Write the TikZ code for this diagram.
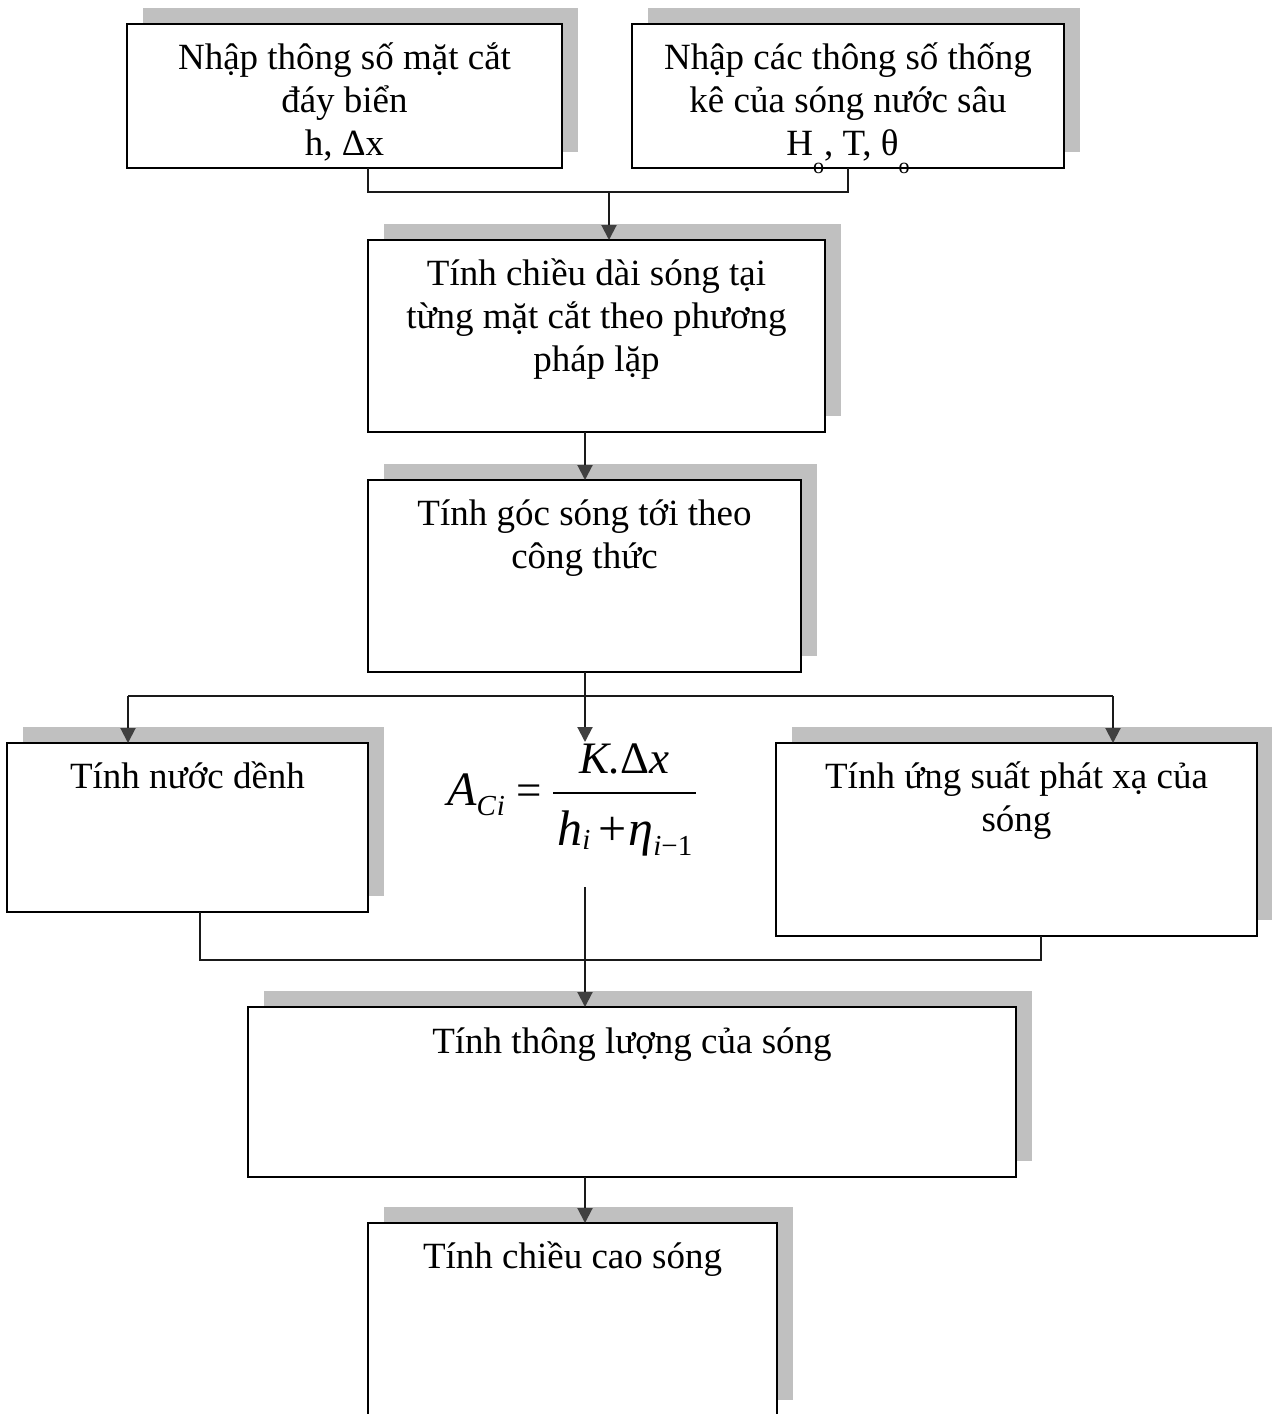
\documentclass[tikz,border=0pt]{standalone}
\usepackage{fontspec}
\setmainfont{Liberation Serif}
\usetikzlibrary{arrows.meta}
\definecolor{shadowgray}{HTML}{C0C0C0}
\definecolor{linecol}{HTML}{1A1A1A}
\definecolor{tipcol}{HTML}{404040}
\newcommand\stacklines[1]{\vtop{\baselineskip=43pt\lineskiplimit=-100pt\halign{\hfil##\hfil\cr#1\crcr}}}
\newcommand\lowsub[1]{\raisebox{-18pt}{\fontsize{22}{22}\selectfont #1}}
\newcommand\fsub[2]{\raisebox{-#2}{\fontsize{29}{29}\selectfont #1}}
\newcommand\numstrut{\vrule width 0pt height 35pt depth 10pt}
\newcommand\denstrut{\vrule width 0pt height 40pt depth 12pt}
\newcommand\myfrac[2]{\raisebox{32pt}{\vtop{\offinterlineskip\halign{\hfil\hskip4pt##\hskip4pt\hfil\cr
  \numstrut#1\cr\noalign{\kern9pt\hrule height 2pt\kern11pt}\denstrut#2\cr}}}}
\begin{document}
\begin{tikzpicture}[x=1pt,y=-1pt,
  box/.style={draw=black,line width=2.4pt,fill=white,inner sep=0pt,outer sep=0pt,anchor=north west,
    preaction={fill=shadowgray,draw=none,transform canvas={shift={(16pt,16pt)}}}},
  txt/.style={font=\fontsize{37}{43}\selectfont,inner sep=0pt,outer sep=0pt,anchor=base},
  conn/.style={draw=linecol,line width=2pt},
  arr/.style={conn,-{Triangle[length=15pt,width=15pt,color=tipcol]}}]
\useasboundingbox (0,0) rectangle (1272,1414);
\clip (0,0) rectangle (1272,1414);
% boxes
\node[box,minimum width=435pt,minimum height=144pt] (b1) at (127,24) {};
\node[box,minimum width=432pt,minimum height=144pt] (b2) at (632,24) {};
\node[box,minimum width=457pt,minimum height=192pt] (b3) at (368,240) {};
\node[box,minimum width=433pt,minimum height=192pt] (b4) at (368,480) {};
\node[box,minimum width=361pt,minimum height=169pt] (b5) at (7,743) {};
\node[box,minimum width=481pt,minimum height=193pt] (b6) at (776,743) {};
\node[box,minimum width=768pt,minimum height=170pt] (b7) at (248,1007) {};
\node[box,minimum width=409pt,minimum height=193pt] (b8) at (368,1223) {};
% texts
\node[txt] (t1) at ([yshift=-45pt]b1.north) {\stacklines{Nhập thông số mặt cắt\cr đáy biển\cr h, Δx}};
\node[txt] (t2) at ([yshift=-45pt]b2.north) {\stacklines{Nhập các thông số thống\cr kê của sóng nước sâu\cr H\lowsub{o}, T, θ\lowsub{o}}};
\node[txt] (t3) at ([yshift=-45pt]b3.north) {\stacklines{Tính chiều dài sóng tại\cr từng mặt cắt theo phương\cr pháp lặp}};
\node[txt] (t4) at ([yshift=-45pt]b4.north) {\stacklines{Tính góc sóng tới theo\cr công thức}};
\node[txt] (t5) at ([yshift=-45pt]b5.north) {\stacklines{Tính nước dềnh}};
\node[txt] (t6) at ([yshift=-45pt]b6.north) {\stacklines{Tính ứng suất phát xạ của\cr sóng}};
\node[txt] (t7) at ([yshift=-46pt]b7.north) {\stacklines{Tính thông lượng của sóng}};
\node[txt] (t8) at ([yshift=-45pt]b8.north) {\stacklines{Tính chiều cao sóng}};
% formula
\node[anchor=base west,inner sep=0pt,font=\fontsize{45}{50}\selectfont] (formula) at (447,805)
  {{\fontsize{48}{50}\selectfont\itshape A}\fsub{\itshape C\kern1pt i}{10pt}\hspace{12pt}=\hspace{11pt}%
   \myfrac{\itshape K.\upshape Δ\itshape x}%
   {\fontsize{50}{50}\selectfont\itshape h\fsub{\itshape i}{4pt}\hspace{8pt}\upshape+\hspace{2pt}\itshape η\fsub{\itshape i\upshape−1}{10pt}}};
% junction coordinates
\coordinate (j1) at (609,192);
\coordinate (sp) at (585,696);
\coordinate (sl) at (128,696);
\coordinate (sr) at (1113,696);
\coordinate (ftop) at (585,742);
\coordinate (fbot) at (585,887);
\coordinate (j2) at (585,960);
% connectors
\draw[conn] ([xshift=23.5pt]b1.south) |- (j1) -| (b2.south);
\draw[arr] (j1) -- (j1 |- b3.north);
\draw[arr] (b3.south -| sp) -- (b4.north -| sp);
\draw[conn] (b4.south -| sp) -- (sp);
\draw[conn] (sl) -- (sr);
\draw[arr] (sl) -- (sl |- b5.north);
\draw[arr] (sr) -- (sr |- b6.north);
\draw[arr] (sp) -- (ftop);
\draw[arr] (fbot) -- (fbot |- b7.north);
\draw[conn] ([xshift=12.5pt]b5.south) |- (j2) -| ([xshift=24.5pt]b6.south);
\draw[arr] (b7.south -| sp) -- (b8.north -| sp);
\end{tikzpicture}
\end{document}
